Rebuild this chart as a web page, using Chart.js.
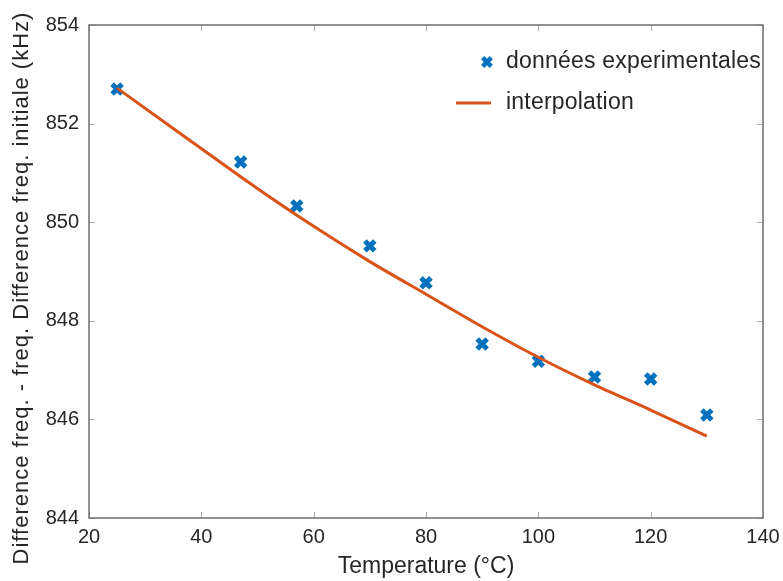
<!DOCTYPE html>
<html>
<head>
<meta charset="utf-8">
<script src="https://cdn.jsdelivr.net/npm/chart.js@4"></script>
<style>
  html, body { margin: 0; padding: 0; background: #fff; }
  #wrap { width: 783px; height: 581px; position: relative; }
</style>
</head>
<body>
<div id="wrap"><canvas id="c" width="783" height="581"></canvas></div>
<script>
// valeurs
const temperatures = [25, 47, 57, 70, 80, 90, 100, 110, 120, 130];
const mesures = [852.70, 851.22, 850.33, 849.52, 848.77, 847.53, 847.18, 846.86, 846.82, 846.09];
const interpolation = [852.72, 850.92, 850.14, 849.20, 848.54, 847.88, 847.26, 846.70, 846.19, 845.66];
const xTicks = [20, 40, 60, 80, 100, 120, 140];
const yTicks = [844, 846, 848, 850, 852, 854];

const FONT = '"Liberation Sans", Arial, Helvetica, sans-serif';
const TXT = '#262626';
const AXE = '#6e6e6e';

// ticks vers l'interieur + cadre + titre y + legende
const matlabStyle = {
    id: 'matlabStyle',
    afterDraw(chart) {
        const { ctx, chartArea: a, scales } = chart;
        ctx.save();
        ctx.strokeStyle = '#b0b0b0';
        ctx.lineWidth = 1;
        const len = 6;
        xTicks.forEach(v => {
            const px = Math.round(scales.x.getPixelForValue(v)) + 0.5;
            ctx.beginPath();
            ctx.moveTo(px, a.bottom); ctx.lineTo(px, a.bottom - len);
            ctx.moveTo(px, a.top); ctx.lineTo(px, a.top + len);
            ctx.stroke();
        });
        yTicks.forEach(v => {
            const py = Math.round(scales.y.getPixelForValue(v)) + 0.5;
            ctx.beginPath();
            ctx.moveTo(a.left, py); ctx.lineTo(a.left + len, py);
            ctx.moveTo(a.right, py); ctx.lineTo(a.right - len, py);
            ctx.stroke();
        });
        // cadre
        ctx.strokeStyle = AXE;
        ctx.lineWidth = 1.5;
        ctx.strokeRect(a.left, a.top, a.right - a.left, a.bottom - a.top);

        // titre axe y
        ctx.fillStyle = TXT;
        ctx.font = '22px ' + FONT;
        ctx.letterSpacing = '1px';
        ctx.textAlign = 'center';
        ctx.textBaseline = 'middle';
        ctx.translate(22, 288);
        ctx.rotate(-Math.PI / 2);
        ctx.fillText('Difference freq. - freq. Difference freq. initiale (kHz)', 0, 0);
        ctx.restore();

        // legende
        ctx.save();
        const ds = chart.data.datasets;
        ctx.font = '23px ' + FONT;
        ctx.letterSpacing = '0.2px';
        ctx.fillStyle = TXT;
        ctx.textAlign = 'left';
        ctx.textBaseline = 'middle';
        // marqueur
        ctx.strokeStyle = ds[0].borderColor;
        ctx.lineWidth = 4.5;
        const mx = 487, my = 62, r = 4.3;
        ctx.beginPath();
        ctx.moveTo(mx - r, my - r); ctx.lineTo(mx + r, my + r);
        ctx.moveTo(mx + r, my - r); ctx.lineTo(mx - r, my + r);
        ctx.stroke();
        ctx.fillText(ds[0].label, 506, 62);
        // ligne
        ctx.strokeStyle = ds[1].borderColor;
        ctx.lineWidth = 3;
        ctx.beginPath();
        ctx.moveTo(456, 103); ctx.lineTo(491, 103);
        ctx.stroke();
        ctx.fillText(ds[1].label, 506, 103);
        ctx.restore();
    }
};

new Chart(document.getElementById('c'), {
    type: 'scatter',
    data: {
        datasets: [
            {
                label: 'données experimentales',
                data: temperatures.map((t, i) => ({ x: t, y: mesures[i] })),
                pointStyle: 'crossRot',
                pointRadius: 7,
                pointBorderWidth: 5,
                borderColor: '#0072BD',
                backgroundColor: '#0072BD',
                showLine: false,
                order: 2
            },
            {
                label: 'interpolation',
                data: temperatures.map((t, i) => ({ x: t, y: interpolation[i] })),
                showLine: true,
                borderColor: '#D95319',
                backgroundColor: '#D95319',
                borderWidth: 3,
                pointRadius: 0,
                tension: 0.3,
                order: 1
            }
        ]
    },
    options: {
        responsive: false,
        animation: false,
        layout: { padding: { top: 25, right: 20, left: 0, bottom: 0 } },
        plugins: {
            legend: { display: false },
            tooltip: { enabled: false }
        },
        scales: {
            x: {
                type: 'linear',
                min: 20,
                max: 140,
                afterBuildTicks: s => { s.ticks = xTicks.map(v => ({ value: v })); },
                afterFit: s => { s.height = 63; s.paddingLeft = 0; s.paddingRight = 0; },
                grid: { display: false, drawTicks: false },
                border: { display: false },
                ticks: {
                    padding: 7,
                    color: TXT,
                    font: { family: FONT, size: 20 }
                },
                title: {
                    display: true,
                    text: 'Temperature (°C)',
                    color: TXT,
                    font: { family: FONT, size: 23 },
                    padding: { top: 0, bottom: 1 }
                }
            },
            y: {
                type: 'linear',
                min: 844,
                max: 854,
                afterBuildTicks: s => { s.ticks = yTicks.map(v => ({ value: v })); },
                afterFit: s => { s.width = 89; s.paddingTop = 0; s.paddingBottom = 0; },
                grid: { display: false, drawTicks: false },
                border: { display: false },
                ticks: {
                    padding: 10,
                    color: TXT,
                    font: { family: FONT, size: 20 }
                }
            }
        }
    },
    plugins: [matlabStyle]
});
</script>
</body>
</html>
